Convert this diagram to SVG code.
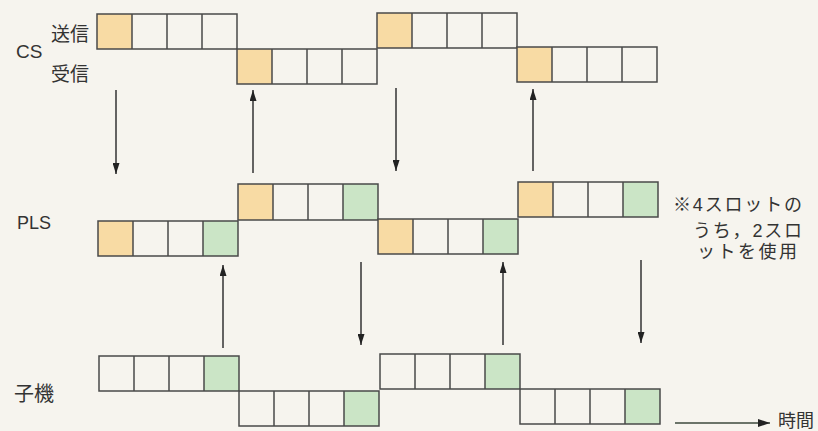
<svg xmlns="http://www.w3.org/2000/svg" width="818" height="431" viewBox="0 0 818 431">
<style>
.c{fill:none;stroke:#4a4a4a;stroke-width:1.5}
.o{fill:#f8dba4}
.g{fill:#cbe5c6}
.t{font-family:"Liberation Sans","Noto Sans CJK JP",sans-serif;fill:#333}
.a{stroke:#333;stroke-width:1.5;fill:none}
</style>
<defs>
<marker id="ah" viewBox="0 0 11 7" refX="11" refY="3.5" markerWidth="11" markerHeight="7" orient="auto" markerUnits="userSpaceOnUse">
<path d="M0,0 L11,3.5 L0,7 Z" fill="#222"/>
</marker>
<marker id="ah2" viewBox="0 0 12 8" refX="12" refY="4" markerWidth="12" markerHeight="8" orient="auto" markerUnits="userSpaceOnUse">
<path d="M0,0 L12,4 L0,8 Z" fill="#222"/>
</marker>
</defs>
<rect width="818" height="431" fill="#f6f4ee"/>

<!-- CS -->
<g id="cs1"><rect class="o" x="97" y="14" width="35" height="35"/><path class="c" d="M97,14h140v35h-140z M132,14v35 M167,14v35 M202,14v35"/></g>
<g id="cs2"><rect class="o" x="237" y="49" width="35" height="35"/><path class="c" d="M237,49h140v35h-140z M272,49v35 M307,49v35 M342,49v35"/></g>
<g id="cs3"><rect class="o" x="377" y="13" width="35" height="35"/><path class="c" d="M377,13h140v35h-140z M412,13v35 M447,13v35 M482,13v35"/></g>
<g id="cs4"><rect class="o" x="517" y="47" width="35" height="35"/><path class="c" d="M517,47h140v35h-140z M552,47v35 M587,47v35 M622,47v35"/></g>

<!-- PLS -->
<g id="pls1"><rect class="o" x="98" y="221" width="35" height="35"/><rect class="g" x="203" y="221" width="35" height="35"/><path class="c" d="M98,221h140v35h-140z M133,221v35 M168,221v35 M203,221v35"/></g>
<g id="pls2"><rect class="o" x="238" y="184" width="35" height="36"/><rect class="g" x="343" y="184" width="35" height="36"/><path class="c" d="M238,184h140v36h-140z M273,184v36 M308,184v36 M343,184v36"/></g>
<g id="pls3"><rect class="o" x="378" y="219" width="35" height="35"/><rect class="g" x="483" y="219" width="35" height="35"/><path class="c" d="M378,219h140v35h-140z M413,219v35 M448,219v35 M483,219v35"/></g>
<g id="pls4"><rect class="o" x="518" y="182" width="35" height="35"/><rect class="g" x="623" y="182" width="35" height="35"/><path class="c" d="M518,182h140v35h-140z M553,182v35 M588,182v35 M623,182v35"/></g>

<!-- Child -->
<g id="ch1"><rect class="g" x="204" y="356" width="35" height="35"/><path class="c" d="M99,356h140v35h-140z M134,356v35 M169,356v35 M204,356v35"/></g>
<g id="ch2"><rect class="g" x="344" y="391" width="35" height="35"/><path class="c" d="M239,391h140v35h-140z M274,391v35 M309,391v35 M344,391v35"/></g>
<g id="ch3"><rect class="g" x="485" y="354" width="35" height="35"/><path class="c" d="M380,354h140v35h-140z M415,354v35 M450,354v35 M485,354v35"/></g>
<g id="ch4"><rect class="g" x="625" y="389" width="35" height="35"/><path class="c" d="M520,389h140v35h-140z M555,389v35 M590,389v35 M625,389v35"/></g>

<!-- labels -->
<g id="labels">
<text class="t" x="16" y="58" font-size="19">CS</text>
<text class="t" x="51" y="41" font-size="19">送信</text>
<text class="t" x="51" y="81" font-size="19">受信</text>
<text class="t" x="17" y="229" font-size="18">PLS</text>
<text class="t" x="14" y="401" font-size="20">子機</text>
<text class="t" x="673" y="211" font-size="18" textLength="129" lengthAdjust="spacing">※4スロットの</text>
<text class="t" x="693" y="237" font-size="18" textLength="109" lengthAdjust="spacing">うち，2スロ</text>
<text class="t" x="697" y="258" font-size="18" textLength="100" lengthAdjust="spacing">ットを使用</text>
<text class="t" x="778" y="427" font-size="18">時間</text>
</g>

<!-- connectors -->
<g id="connectors">
<line class="a" x1="116" y1="90" x2="116" y2="174" marker-end="url(#ah)"/>
<line class="a" x1="253" y1="173" x2="253" y2="90" marker-end="url(#ah)"/>
<line class="a" x1="396" y1="88" x2="396" y2="171" marker-end="url(#ah)"/>
<line class="a" x1="533" y1="171" x2="533" y2="89" marker-end="url(#ah)"/>
<line class="a" x1="223" y1="348" x2="223" y2="265" marker-end="url(#ah)"/>
<line class="a" x1="361" y1="262" x2="361" y2="345" marker-end="url(#ah)"/>
<line class="a" x1="503" y1="345" x2="503" y2="262" marker-end="url(#ah)"/>
<line class="a" x1="641" y1="260" x2="641" y2="343" marker-end="url(#ah)"/>
<line x1="675" y1="423" x2="770" y2="423" stroke="#3c4a3c" stroke-width="1.5" marker-end="url(#ah2)"/>
</g>
</svg>
